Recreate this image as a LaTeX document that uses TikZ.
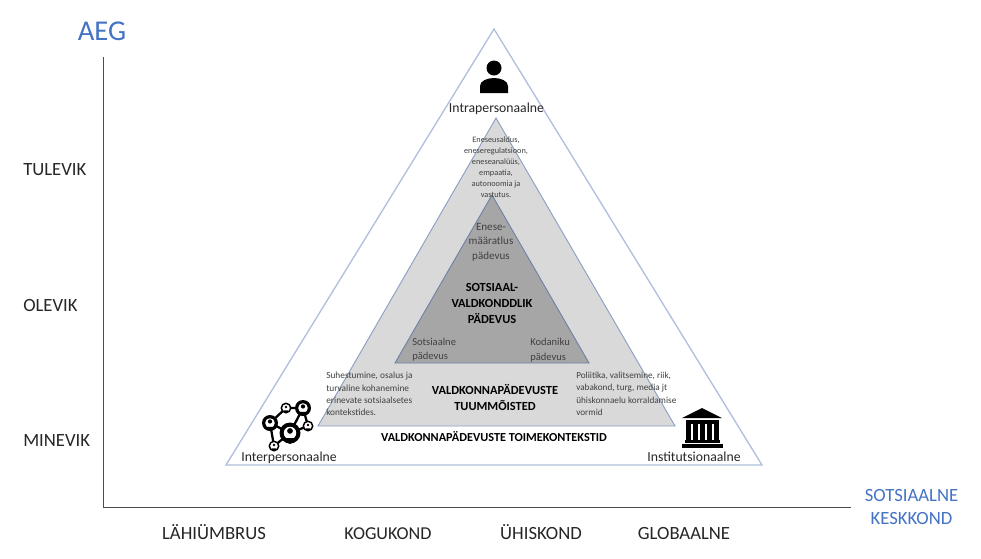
\documentclass[tikz,border=0pt]{standalone}
\usepackage{fontspec}
\setmainfont{Carlito}
\definecolor{edgeblue}{RGB}{176,192,220}
\definecolor{midfill}{RGB}{217,217,217}
\definecolor{midedge}{RGB}{140,160,195}
\definecolor{innerfill}{RGB}{166,166,166}
\definecolor{innerdge}{RGB}{110,130,165}
\definecolor{axistitle}{RGB}{68,114,196}
\definecolor{smalltxt}{RGB}{64,64,64}
\newcommand{\fs}[2]{\fontsize{#1}{#2}\selectfont}
\tikzset{
  x=0.75pt,y=-0.75pt,
  axislabel/.style={font=\fs{14}{16},text=black!85,inner sep=0pt,anchor=base},
  iconlabel/.style={font=\fs{10.3}{12},text=black!85,inner sep=0pt,anchor=base},
  boldlabel/.style={font=\fs{9.3}{12}\bfseries,align=center,inner sep=0pt,text=black},
  desclabel/.style={font=\fs{7}{9.2},text=smalltxt,align=left,inner sep=0pt},
  smalllabel/.style={font=\fs{8.3}{10.9},text=smalltxt,align=center,inner sep=0pt},
  cornerlabel/.style={font=\fs{7.9}{10.9},text=smalltxt,align=left,anchor=west,inner sep=0pt},
  titlelabel/.style={text=axistitle,inner sep=0pt,align=center},
}
\begin{document}
\begin{tikzpicture}
\useasboundingbox (0,0) rectangle (981,558);
\fill[white] (0,0) rectangle (981,558);
% axes
\coordinate (axtop) at (103,57);
\coordinate (axcorner) at (103,507);
\coordinate (axend) at (851,507);
\draw[black!70,line width=0.6pt] (axtop) -- (axcorner) -- (axend);
% triangles
\draw[edgeblue,line width=1pt,fill=white] (494,29) -- (762,465) -- (226,465) -- cycle;
\draw[midedge,line width=0.7pt,fill=midfill] (496,118) -- (675,426) -- (318,426) -- cycle;
\draw[innerdge,line width=0.7pt,fill=innerfill] (492,195) -- (589,363) -- (395,363) -- cycle;
% titles
\node[titlelabel,font=\fs{21.5}{24}] (aeg) at (102,31) {AEG};
\node[titlelabel,font=\fs{14}{17}] (sk) at (911.5,507) {SOTSIAALNE\\KESKKOND};
% y labels
\node[axislabel,anchor=base west] (tulevik) at (23,175) {TULEVIK};
\node[axislabel,anchor=base west] (olevik) at (23,311) {OLEVIK};
\node[axislabel,anchor=base west] (minevik) at (23,446) {MINEVIK};
% x labels
\node[axislabel] (lahi) at (214,539) {LÄHIÜMBRUS};
\node[axislabel,font=\fs{13.6}{16}] (kogu) at (388,539) {KOGUKOND};
\node[axislabel] (yhis) at (541,539) {ÜHISKOND};
\node[axislabel] (glob) at (684,539) {GLOBAALNE};
% person icon
\fill[black] (494,68) circle (7.5);
\fill[black] (480,93) -- (480,86) .. controls (480,81) and (487,78) .. (494,78) .. controls (501,78) and (508,81) .. (508,86) -- (508,93) -- cycle;
\node[iconlabel] (intra) at (496.5,112) {Intrapersonaalne};
% descriptions
\node[smalllabel,font=\fs{6.2}{8.25}] (ene) at (496,167) {Eneseusaldus,\\eneseregulatsioon,\\eneseanalüüs,\\empaatia,\\autonoomia ja\\vastutus.};
\node[smalllabel] (mar) at (491,242) {Enese-\\määratlus\\pädevus};
\node[boldlabel] (sv) at (492,303) {SOTSIAAL-\\VALDKONDDLIK\\PÄDEVUS};
\node[cornerlabel] (sots) at (412,349.5) {Sotsiaalne\\pädevus};
\node[cornerlabel] (koda) at (530,350) {Kodaniku\\pädevus};
\node[boldlabel] (tuum) at (495,397.5) {VALDKONNAPÄDEVUSTE\\TUUMMÕISTED};
\node[boldlabel,font=\fs{9.2}{11}\bfseries] (toime) at (494,437) {VALDKONNAPÄDEVUSTE TOIMEKONTEKSTID};
\node[desclabel,anchor=north west] (suh) at (326,372) {Suhestumine, osalus ja\\turvaline kohanemine\\erinevate sotsiaalsetes\\kontekstides.};
\node[desclabel,font=\fs{6.9}{9.2},anchor=north west] (pol) at (576,372) {Poliitika, valitsemine, riik,\\vabakond, turg, media jt\\ühiskonnaelu korraldamise\\vormid};
% network icon
\coordinate (n0) at (270,423);
\coordinate (n1) at (286,408);
\coordinate (n2) at (303,408);
\coordinate (n3) at (308,426);
\coordinate (n4) at (290,433);
\coordinate (n5) at (274,446);
\draw[black,line width=1.7pt] (n0)--(n1)--(n2)--(n3)--(n4)--(n0) (n2)--(n4)--(n5)--(n0);
\foreach \c/\r/\w in {n1/4.5/1.3,n3/4.5/1.3,n5/4.5/1.3,n0/7/2.4,n2/7/2.4,n4/9.5/3.2}{
  \fill[black] (\c) circle (\r+1);
  \fill[white] (\c) circle (\r+1-\w/0.75);
  \fill[black] (\c)++(0,-\r*0.22) circle (\r*0.3);
  \fill[black] (\c)++(-\r*0.55,\r*0.55) arc (180:0:{\r*0.55} and {\r*0.6}) -- cycle;
}
\node[iconlabel] (inter) at (289,461) {Interpersonaalne};
% building icon
\fill[black] (682,418) -- (702,408) -- (722,418) -- cycle;
\fill[black] (685.5,420) rectangle (718.5,423.5);
\foreach \xx in {686,693,700,707,714}{\fill[black] (\xx,423.5) rectangle ++(4.6,16);}
\fill[black] (685,439.5) rectangle (720,442.5);
\fill[black] (682,443.5) rectangle (723,447.5);
\node[iconlabel] (inst) at (694,461) {Institutsionaalne};
\end{tikzpicture}
\end{document}
